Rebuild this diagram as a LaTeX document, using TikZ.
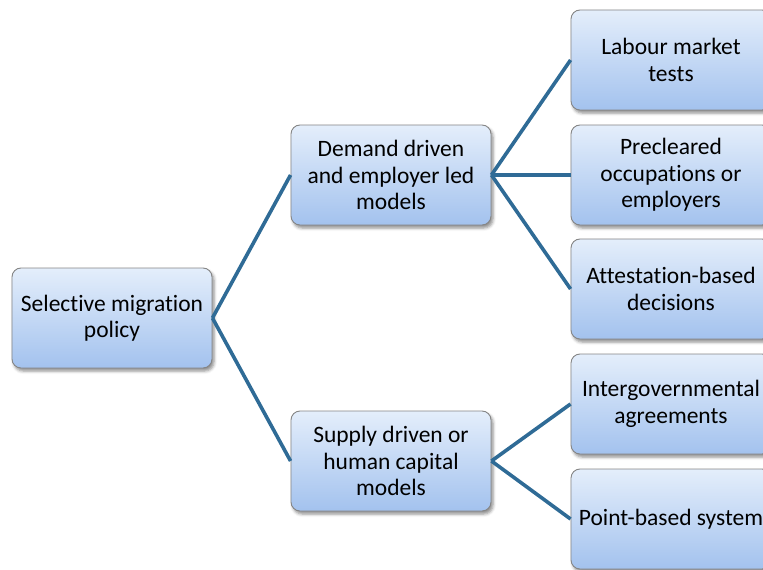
\documentclass[tikz,border=0pt]{standalone}
\usepackage{fontspec}
\setmainfont{Carlito}[Ligatures=NoCommon]
\usetikzlibrary{shadows.blur}
\definecolor{boxtop}{HTML}{E4EEFB}
\definecolor{boxbot}{HTML}{A3C2EE}
\definecolor{boxline}{HTML}{858585}
\definecolor{conn}{HTML}{2F6B96}
\tikzset{
  box/.style={draw=boxline, line width=0.9bp, rounded corners=9bp,
    top color=boxtop, bottom color=boxbot,
    minimum width=200bp, minimum height=100bp, inner sep=0pt,
    align=center, font=\fontsize{23.5bp}{26.5bp}\selectfont,
    blur shadow={shadow xshift=2bp, shadow yshift=-3bp, shadow blur radius=3bp, shadow opacity=45}},
  link/.style={draw=conn, line width=3.6bp}
}
\begin{document}
\begin{tikzpicture}[x=1bp,y=-1bp]
\useasboundingbox (0,0) rectangle (763,570);
\clip (0,0) rectangle (763,570);
\node[box] (root) at (112,318) {Selective migration\\policy};
\node[box] (dem) at (391,175) {Demand driven\\and employer led\\models};
\node[box] (sup) at (391,461) {Supply driven or\\human capital\\models};
\node[box] (lab) at (671,60) {Labour market\\tests};
\node[box] (pre) at (671,175) {Precleared\\occupations or\\employers};
\node[box] (att) at (671,289) {Attestation-based\\decisions};
\node[box] (int) at (671,404) {Intergovernmental\\agreements};
\node[box] (pts) at (671,519) {Point-based system};
\draw[link] (root.east) -- (dem.west);
\draw[link] (root.east) -- (sup.west);
\draw[link] (dem.east) -- (lab.west);
\draw[link] (dem.east) -- (pre.west);
\draw[link] (dem.east) -- (att.west);
\draw[link] (sup.east) -- (int.west);
\draw[link] (sup.east) -- (pts.west);
\end{tikzpicture}
\end{document}
